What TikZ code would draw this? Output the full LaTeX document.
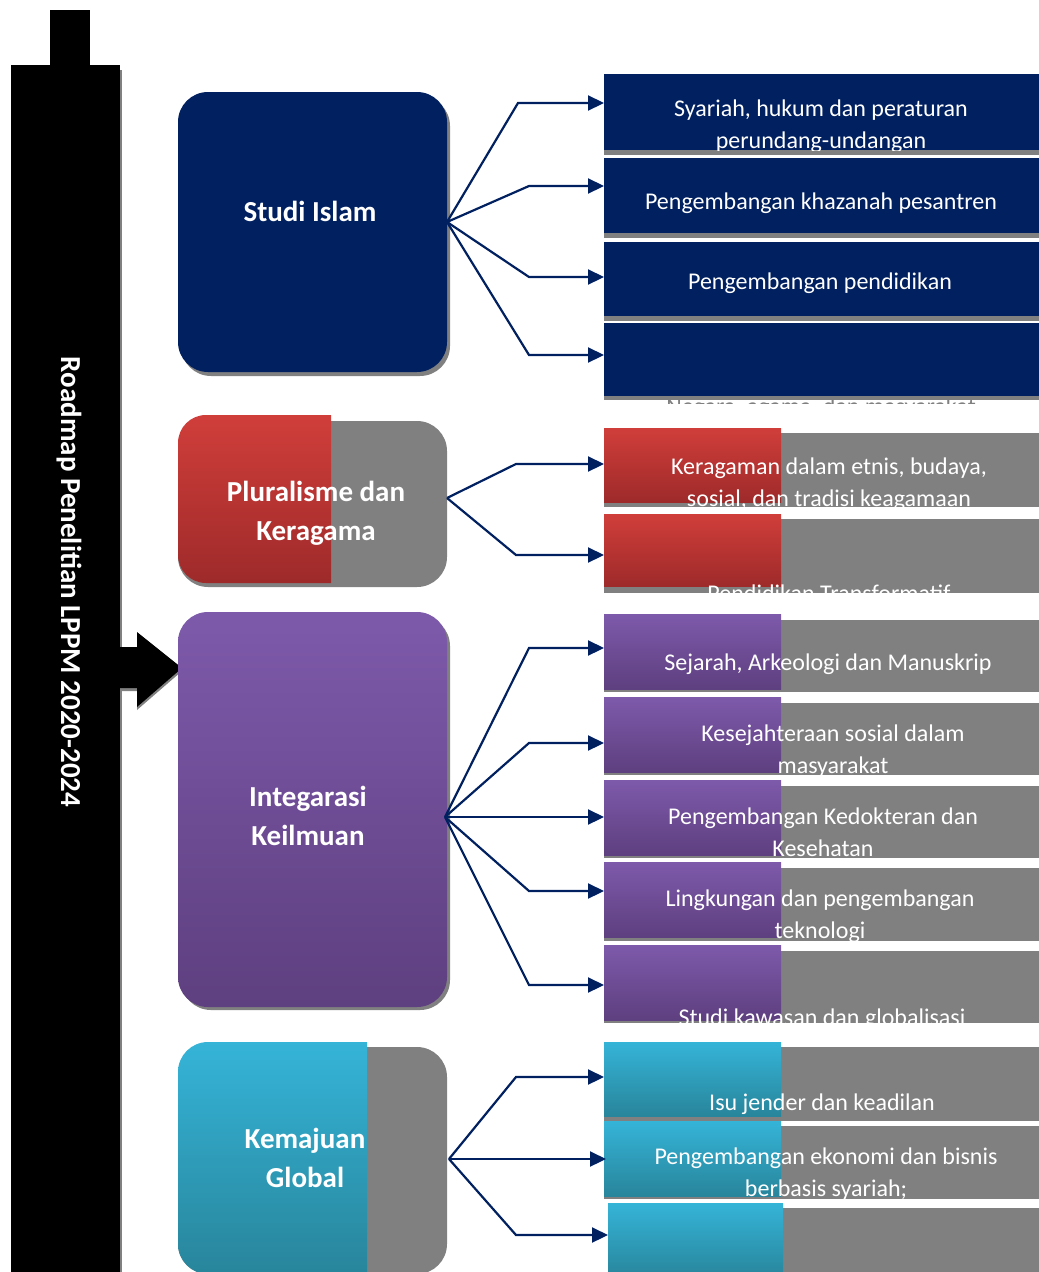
\documentclass[tikz,border=0pt]{standalone}
\usepackage{fontspec}
\setmainfont{Carlito}
\usetikzlibrary{arrows.meta}
\definecolor{navy}{RGB}{0,32,96}
\definecolor{midgray}{RGB}{128,128,128}
\definecolor{redtop}{RGB}{208,62,58}
\definecolor{redbot}{RGB}{158,42,42}
\definecolor{purptop}{RGB}{126,90,171}
\definecolor{purpbot}{RGB}{94,63,127}
\definecolor{cyantop}{RGB}{53,180,216}
\definecolor{cyanbot}{RGB}{40,133,155}
\tikzset{
  cell/.style={anchor=north west, inner sep=0pt, outer sep=0pt, minimum width=435},
  halfcell/.style={anchor=north west, inner sep=0pt, outer sep=0pt, minimum width=177},
  graycell/.style={cell, fill=midgray},
  navycell/.style={cell, fill=navy, minimum height=76},
  redcell/.style={halfcell, top color=redtop, bottom color=redbot},
  purpcell/.style={halfcell, top color=purptop, bottom color=purpbot, minimum height=75},
  cyancell/.style={halfcell, top color=cyantop, bottom color=cyanbot},
  catbox/.style={rounded corners=30, inner sep=0pt, outer sep=0pt, minimum width=269},
  itemtext/.style={text=white, align=center, font=\fontsize{24}{32}\selectfont},
  headtext/.style={text=white, align=center, font=\bfseries\fontsize{29}{39}\selectfont},
  link/.style={draw=navy, line width=2.2pt, -{Triangle[length=16pt,width=15pt]}}
}
\begin{document}
\begin{tikzpicture}[x=1pt, y=-1pt]
\path[use as bounding box, clip] (0,0) rectangle (1039,1272);

% title bar
\fill[black] (50,10) rectangle (90,65);
\fill[midgray] (120,70) rectangle (122,1272);
\fill[black] (11,65) rectangle (120,1272);
\fill[midgray] (120,650) -- (137,650) -- (137,635) -- (182,671) -- (137,710) -- (137,691) -- (120,691) -- cycle;
\fill[black] (118,647) -- (137,647) -- (137,632) -- (182,668) -- (137,707) -- (137,688) -- (118,688) -- cycle;
\node[rotate=-90, anchor=base, text=white, font=\bfseries\fontsize{29}{35}\selectfont] (title) at (61,582) {Roadmap Penelitian LPPM 2020-2024};

% left boxes
\fill[midgray, rounded corners=30] (181,96) rectangle (450,376);
\node[catbox, fill=navy, minimum height=280] (islam) at (312.5,232) {};
\node[headtext] (islamt) at (310,211) {Studi Islam};

\node[catbox, fill=midgray, minimum height=166] (plural) at (312.5,504) {};
\begin{scope}
  \clip (170,400) rectangle (331,600);
  \shade[top color=redtop, bottom color=redbot, rounded corners=28] (178,415) rectangle (400,583);
\end{scope}
\node[headtext] (pluralt) at (316,513) {Pluralisme dan\\Keragama};

\fill[midgray, rounded corners=30] (181,616) rectangle (450,1010);
\node[catbox, top color=purptop, bottom color=purpbot, minimum height=395] (integ) at (312.5,809.5) {};
\node[headtext] (integt) at (308,816) {Integarasi\\Keilmuan};

\node[catbox, fill=midgray, minimum height=227] (maju) at (312.5,1160.5) {};
\begin{scope}
  \clip (170,1030) rectangle (367,1290);
  \shade[top color=cyantop, bottom color=cyanbot, rounded corners=30] (178,1042) rectangle (420,1274);
\end{scope}
\node[headtext] (majut) at (305,1158) {Kemajuan\\Global};

% Studi Islam items
\node[graycell, minimum height=75] (s1g) at (604,80) {};
\node[navycell] (s1) at (604,74) {};
\node[graycell, minimum height=75] (s2g) at (604,163) {};
\node[navycell, minimum height=75] (s2) at (604,158) {};
\node[graycell, minimum height=75] (s3g) at (604,246) {};
\node[navycell, minimum height=74] (s3) at (604,242) {};
\node[graycell, minimum height=75] (s4g) at (604,325) {};
\node[navycell, minimum height=73] (s4) at (604,323) {};
\begin{scope}
  \clip (s1.north west) rectangle (s1.south east);
  \node[itemtext] (s1t) at (821,126) {Syariah, hukum dan peraturan\\perundang-undangan};
\end{scope}
\node[itemtext] (s2t) at (821,203) {Pengembangan khazanah pesantren};
\node[itemtext] (s3t) at (820,283) {Pengembangan pendidikan};
\begin{scope}
  \clip (s4.south west) rectangle ([yshift=-3pt]s4g.south east);
  \node[itemtext, text=midgray, anchor=base] (s4t) at (821,414) {Negara, agama, dan masyarakat};
\end{scope}

% Pluralisme items
\node[graycell, minimum height=74] (p1g) at (604,433) {};
\node[redcell, minimum height=74] (p1) at (604,428) {};
\node[graycell, minimum height=74] (p2g) at (604,519) {};
\node[redcell, minimum height=72] (p2) at (604,514) {};
\begin{scope}
  \clip (p1.north west) rectangle (p1g.south east);
  \node[itemtext] (p1t) at (829,484) {Keragaman dalam etnis, budaya,\\sosial, dan tradisi keagamaan};
\end{scope}
\begin{scope}
  \clip (p2.north west) rectangle (p2g.south east);
  \node[itemtext] (p2t) at (829,593) {Pendidikan Transformatif};
\end{scope}

% Integrasi items
\node[graycell, minimum height=72] (k1g) at (604,620) {};
\node[purpcell] (k1) at (604,614) {};
\node[graycell, minimum height=72] (k2g) at (604,703) {};
\node[purpcell] (k2) at (604,697) {};
\node[graycell, minimum height=72] (k3g) at (604,786) {};
\node[purpcell] (k3) at (604,780) {};
\node[graycell, minimum height=73] (k4g) at (604,868) {};
\node[purpcell] (k4) at (604,862) {};
\node[graycell, minimum height=72] (k5g) at (604,951) {};
\node[purpcell] (k5) at (604,945) {};
\node[itemtext] (k1t) at (828,664) {Sejarah, Arkeologi dan Manuskrip};
\begin{scope}
  \clip (k2.north west) rectangle (k2g.south east);
  \node[itemtext] (k2t) at (833,751) {Kesejahteraan sosial dalam\\masyarakat};
\end{scope}
\node[itemtext] (k3t) at (823,832) {Pengembangan Kedokteran dan\\Kesehatan};
\begin{scope}
  \clip (k4.north west) rectangle (k4g.south east);
  \node[itemtext] (k4t) at (820,916) {Lingkungan dan pengembangan\\teknologi};
\end{scope}
\begin{scope}
  \clip (k5.north west) rectangle (k5g.south east);
  \node[itemtext] (k5t) at (822,1019) {Studi kawasan dan globalisasi};
\end{scope}

% Kemajuan items
\node[graycell, minimum height=74] (g1g) at (604,1047) {};
\node[cyancell, minimum height=74] (g1) at (604,1042) {};
\node[graycell, minimum height=73] (g2g) at (604,1126) {};
\node[cyancell, minimum height=75] (g2) at (604,1121) {};
\node[graycell, minimum width=431, minimum height=70] (g3g) at (608,1208) {};
\node[cyancell, minimum width=175, minimum height=75] (g3) at (608,1203) {};
\node[itemtext] (g1t) at (822,1104) {Isu jender dan keadilan};
\begin{scope}
  \clip (g2.north west) rectangle (g2g.south east);
  \node[itemtext] (g2t) at (826,1174) {Pengembangan ekonomi dan bisnis\\berbasis syariah;};
\end{scope}

% connectors
\coordinate (islamhub) at (447,222);
\coordinate (ib1) at (518,103);
\coordinate (ib2) at (529,186);
\coordinate (ib3) at (529,277);
\coordinate (ib4) at (529,355);
\draw[link] (islamhub) -- (ib1) -- (ib1 -| s1.west);
\draw[link] (islamhub) -- (ib2) -- (ib2 -| s2.west);
\draw[link] (islamhub) -- (ib3) -- (ib3 -| s3.west);
\draw[link] (islamhub) -- (ib4) -- (ib4 -| s4.west);

\coordinate (pluralhub) at (447,498);
\coordinate (pb1) at (516,464);
\coordinate (pb2) at (516,555);
\draw[link] (pluralhub) -- (pb1) -- (pb1 -| p1.west);
\draw[link] (pluralhub) -- (pb2) -- (pb2 -| p2.west);

\coordinate (integhub) at (445,817);
\coordinate (kb1) at (529,648);
\coordinate (kb2) at (529,743);
\coordinate (kb4) at (529,891);
\coordinate (kb5) at (529,985);
\draw[link] (integhub) -- (kb1) -- (kb1 -| k1.west);
\draw[link] (integhub) -- (kb2) -- (kb2 -| k2.west);
\draw[link] (integhub) -- (integhub -| k3.west);
\draw[link] (integhub) -- (kb4) -- (kb4 -| k4.west);
\draw[link] (integhub) -- (kb5) -- (kb5 -| k5.west);

\coordinate (majuhub) at (449,1159);
\coordinate (gb1) at (516,1077);
\coordinate (gb3) at (516,1235);
\draw[link] (majuhub) -- (gb1) -- (gb1 -| g1.west);
\draw[link] (majuhub) -- ([xshift=2pt]majuhub -| g2.west);
\draw[link] (majuhub) -- (gb3) -- (gb3 -| g3.west);
\end{tikzpicture}
\end{document}
